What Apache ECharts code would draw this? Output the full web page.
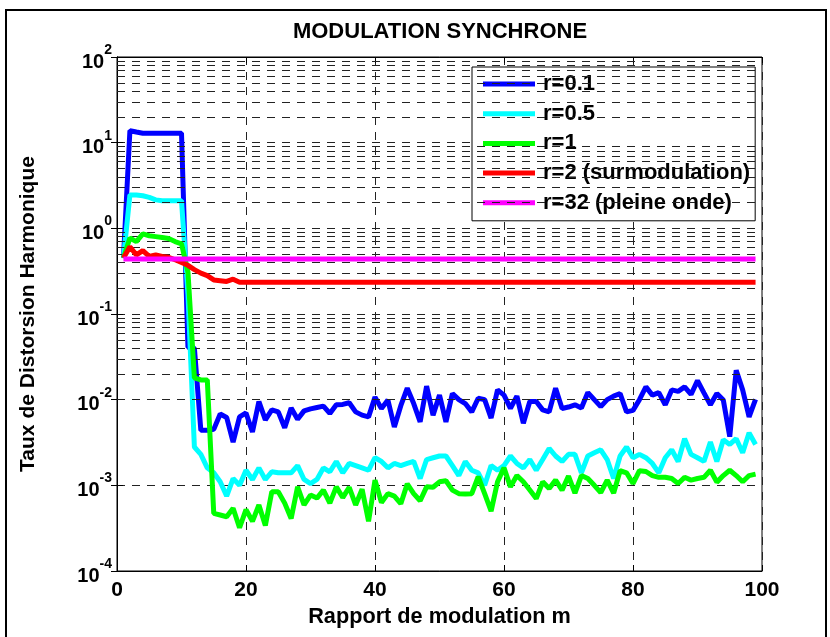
<!DOCTYPE html>
<html><head><meta charset="utf-8">
<script src="https://cdn.jsdelivr.net/npm/echarts@6/dist/echarts.min.js"></script>
<style>html,body{margin:0;padding:0;background:#fff}#c{width:830px;height:637px}</style>
</head><body><div id="c"></div>
<script>
// Rapport de modulation m
const mValues = [1,2,3,4,5,6,7,8,9,10,11,12,13,14,15,16,17,18,19,20,21,22,23,24,25,26,27,28,29,30,31,32,33,34,35,36,37,38,39,40,41,42,43,44,45,46,47,48,49,50,51,52,53,54,55,56,57,58,59,60,61,62,63,64,65,66,67,68,69,70,71,72,73,74,75,76,77,78,79,80,81,82,83,84,85,86,87,88,89,90,91,92,93,94,95,96,97,98,99];

// r = 0.1
const thdR01 = [0.45,13.8,13.3,12.9,12.9,12.9,12.9,12.9,12.9,12.9,0.041,0.040,0.0044,0.0044,0.0045,0.0068,0.0062,0.0032,0.0063,0.0070,
0.0042,0.0095,0.0058,0.0076,0.0072,0.0047,0.0080,0.0059,0.0074,0.0078,0.0081,0.0084,0.0069,0.0087,0.0088,0.0092,0.0072,0.0066,0.0063,0.0107,
0.0079,0.0099,0.0048,0.0085,0.0136,0.0090,0.0055,0.0144,0.0066,0.0113,0.0055,0.0118,0.0100,0.0090,0.0072,0.0104,0.0100,0.0061,0.0130,0.0113,
0.0079,0.0110,0.0053,0.0095,0.0095,0.0076,0.0072,0.0136,0.0079,0.0082,0.0087,0.0080,0.0121,0.0100,0.0083,0.0100,0.0110,0.0118,0.0072,0.0075,
0.0100,0.0141,0.0113,0.0121,0.0087,0.0130,0.0125,0.0141,0.0115,0.0167,0.0120,0.0087,0.0118,0.0099,0.0037,0.0220,0.0130,0.0063,0.0101];

// r = 0.5
const thdR05 = [0.45,2.45,2.45,2.40,2.30,2.15,2.10,2.10,2.10,2.10,0.17,0.0028,0.0023,0.0016,0.0014,0.0011,0.00075,0.0012,0.0010,0.0015,
0.00117,0.0016,0.00117,0.00144,0.0014,0.0014,0.0014,0.0017,0.00117,0.00105,0.00117,0.0016,0.00144,0.0019,0.0014,0.0018,0.0017,0.0016,0.0015,0.0021,
0.0019,0.0016,0.0018,0.0017,0.0018,0.0019,0.0012,0.0020,0.0021,0.0022,0.0022,0.0017,0.0013,0.0019,0.0015,0.0014,0.0010,0.0017,0.0015,0.0017,
0.0022,0.0018,0.0016,0.0020,0.0015,0.0020,0.0027,0.0022,0.0019,0.0023,0.0023,0.0014,0.0022,0.0024,0.0026,0.0020,0.0012,0.0022,0.0028,0.0021,
0.0023,0.0021,0.0018,0.0014,0.0021,0.0026,0.0019,0.0035,0.0023,0.0021,0.0019,0.0032,0.0019,0.0034,0.0030,0.0035,0.0024,0.0041,0.0030];

// r = 1
const thdR1 = [0.45,0.77,0.70,0.86,0.82,0.80,0.78,0.76,0.70,0.66,0.31,0.018,0.017,0.017,0.00047,0.00045,0.00043,0.00054,0.00032,0.00052,
0.00038,0.00059,0.00034,0.00084,0.00084,0.00062,0.00041,0.00096,0.00059,0.00077,0.00071,0.00088,0.00062,0.00096,0.00072,0.00095,0.00059,0.00090,0.00038,0.00115,
0.00063,0.00080,0.00075,0.00061,0.00104,0.00080,0.00066,0.00096,0.00095,0.00110,0.00113,0.00088,0.00080,0.00079,0.00080,0.00126,0.00080,0.00050,0.00110,0.00160,
0.00096,0.00130,0.00110,0.00088,0.00070,0.00110,0.00092,0.00115,0.00088,0.00128,0.00081,0.00130,0.00120,0.00100,0.00082,0.00115,0.00081,0.00148,0.00140,0.00105,
0.00148,0.00145,0.00130,0.00124,0.00124,0.00120,0.00105,0.00124,0.00115,0.00120,0.00124,0.00150,0.00109,0.00130,0.00150,0.00130,0.00110,0.00130,0.00135];

// r = 2 (surmodulation)
const thdR2 = [0.45,0.61,0.49,0.55,0.47,0.49,0.47,0.46,0.43,0.40,0.37,0.33,0.30,0.28,0.25,0.245,0.24,0.255,0.235,0.235,
0.235,0.235,0.235,0.235,0.235,0.235,0.235,0.235,0.235,0.235,0.235,0.235,0.235,0.235,0.235,0.235,0.235,0.235,0.235,0.235,
0.235,0.235,0.235,0.235,0.235,0.235,0.235,0.235,0.235,0.235,0.235,0.235,0.235,0.235,0.235,0.235,0.235,0.235,0.235,0.235,
0.235,0.235,0.235,0.235,0.235,0.235,0.235,0.235,0.235,0.235,0.235,0.235,0.235,0.235,0.235,0.235,0.235,0.235,0.235,0.235,
0.235,0.235,0.235,0.235,0.235,0.235,0.235,0.235,0.235,0.235,0.235,0.235,0.235,0.235,0.235,0.235,0.235,0.235,0.235];

// r = 32 (pleine onde)
const thdR32 = [0.44,0.44,0.44,0.44,0.44,0.44,0.44,0.44,0.44,0.44,0.44,0.44,0.44,0.44,0.44,0.44,0.44,0.44,0.44,0.44,
0.44,0.44,0.44,0.44,0.44,0.44,0.44,0.44,0.44,0.44,0.44,0.44,0.44,0.44,0.44,0.44,0.44,0.44,0.44,0.44,
0.44,0.44,0.44,0.44,0.44,0.44,0.44,0.44,0.44,0.44,0.44,0.44,0.44,0.44,0.44,0.44,0.44,0.44,0.44,0.44,
0.44,0.44,0.44,0.44,0.44,0.44,0.44,0.44,0.44,0.44,0.44,0.44,0.44,0.44,0.44,0.44,0.44,0.44,0.44,0.44,
0.44,0.44,0.44,0.44,0.44,0.44,0.44,0.44,0.44,0.44,0.44,0.44,0.44,0.44,0.44,0.44,0.44,0.44,0.44];

const seriesNames = ['r=0.1','r=0.5','r=1','r=2 (surmodulation)','r=32 (pleine onde)'];
const seriesColors = ['#0000ff','#00ffff','#00ff00','#ff0000','#ff00ff'];
const seriesValues = [thdR01, thdR05, thdR1, thdR2, thdR32];

const xTicks = [0,20,40,60,80,100];
const yMin = 1e-4, yMax = 100;

const FONT = "'Liberation Sans', Arial, sans-serif";

// minor log grid values (2..9 x 10^k)
const minorGrid = [];
for (let k = -4; k <= 1; k++) for (let j = 2; j <= 9; j++) minorGrid.push({yAxis: j * Math.pow(10, k)});

const dash = [8, 7];
const gridColor = '#222';

const series = seriesNames.map((name, i) => ({
  name: name,
  type: 'line',
  data: mValues.map((m, k) => [m, seriesValues[i][k]]),
  showSymbol: false,
  symbol: 'none',
  lineStyle: {color: seriesColors[i], width: 5},
  itemStyle: {color: seriesColors[i], borderWidth: 0},
  z: 3 + i
}));

series.unshift({
  name: 'grid',
  type: 'line',
  data: [],
  silent: true,
  z: 1,
  markLine: {
    silent: true,
    symbol: ['none', 'none'],
    label: {show: false},
    animation: false,
    lineStyle: {type: dash, color: gridColor, width: 1},
    emphasis: {disabled: true},
    data: minorGrid
  }
});

const chart = echarts.init(document.getElementById('c'), null, {renderer: 'canvas'});
chart.setOption({
  animation: false,
  backgroundColor: '#fff',
  textStyle: {fontFamily: FONT},
  grid: {left: 117, right: 68, top: 57, bottom: 66, show: true, borderColor: '#000', borderWidth: 1, backgroundColor: 'transparent'},
  graphic: [
    {type: 'rect', shape: {x: 6, y: 10, width: 820, height: 640}, style: {fill: 'none', stroke: '#000', lineWidth: 2}, silent: true, z: 0},
    {type: 'text', x: 440, y: 32, style: {text: 'MODULATION SYNCHRONE', font: "bold 22px 'Liberation Sans', Arial, sans-serif", fill: '#000', align: 'center', verticalAlign: 'middle'}, silent: true}
  ],
  legend: {
    data: seriesNames,
    orient: 'vertical',
    left: 472, top: 67,
    padding: [6, 5, 7, 11],
    itemGap: 7.7,
    itemWidth: 52, itemHeight: 5,
    icon: 'rect',
    itemStyle: {borderWidth: 0, borderColor: 'transparent'},
    lineStyle: {width: 0},
    borderColor: '#000', borderWidth: 1, borderRadius: 0,
    backgroundColor: '#fff',
    textStyle: {fontSize: 22, fontWeight: 'bold', color: '#000', fontFamily: FONT, padding: [0, 0, 0, 3]}
  },
  xAxis: [{
    type: 'value', min: 0, max: 100, interval: 20,
    name: 'Rapport de modulation m', nameLocation: 'middle', nameGap: 27,
    nameTextStyle: {fontSize: 21.7, fontWeight: 'bold', color: '#000', fontFamily: FONT},
    axisLine: {show: true, lineStyle: {color: '#000', width: 1}},
    axisTick: {show: true, inside: true, length: 6, lineStyle: {color: '#000'}},
    axisLabel: {fontSize: 21, fontWeight: 'bold', color: '#000', margin: 9, fontFamily: FONT, customValues: xTicks},
    splitLine: {show: true, lineStyle: {type: dash, color: gridColor, width: 1}}
  }, {
    type: 'value', min: 0, max: 100, interval: 20, position: 'top',
    axisLine: {show: true, lineStyle: {color: '#000'}},
    axisTick: {show: true, inside: true, length: 6, lineStyle: {color: '#000'}},
    axisLabel: {show: false}, splitLine: {show: false}
  }],
  yAxis: [{
    type: 'log', logBase: 10, min: yMin, max: yMax,
    name: 'Taux de Distorsion Harmonique', nameLocation: 'middle', nameGap: 78, nameRotate: 90,
    nameTextStyle: {fontSize: 21, fontWeight: 'bold', color: '#000', fontFamily: FONT},
    axisLine: {show: true, lineStyle: {color: '#000', width: 1}},
    axisTick: {show: true, inside: true, length: 6, lineStyle: {color: '#000'}},
    axisLabel: {
      margin: 5, color: '#000',
      formatter: function (v) { const e = Math.round(Math.log10(v)); return '{b|10}{e|' + e + '}'; },
      rich: {
        b: {fontSize: 20, fontWeight: 'bold', color: '#000', fontFamily: FONT, padding: [10, 0, 0, 0]},
        e: {fontSize: 14, fontWeight: 'bold', color: '#000', fontFamily: FONT, padding: [0, 0, 14, 0]}
      }
    },
    splitLine: {show: true, lineStyle: {type: dash, color: gridColor, width: 1}}
  }, {
    type: 'log', logBase: 10, min: yMin, max: yMax, position: 'right',
    axisLine: {show: true, lineStyle: {color: '#000'}},
    axisTick: {show: true, inside: true, length: 6, lineStyle: {color: '#000'}},
    axisLabel: {show: false}, splitLine: {show: false}
  }],
  series: series
});
</script>
</body></html>
